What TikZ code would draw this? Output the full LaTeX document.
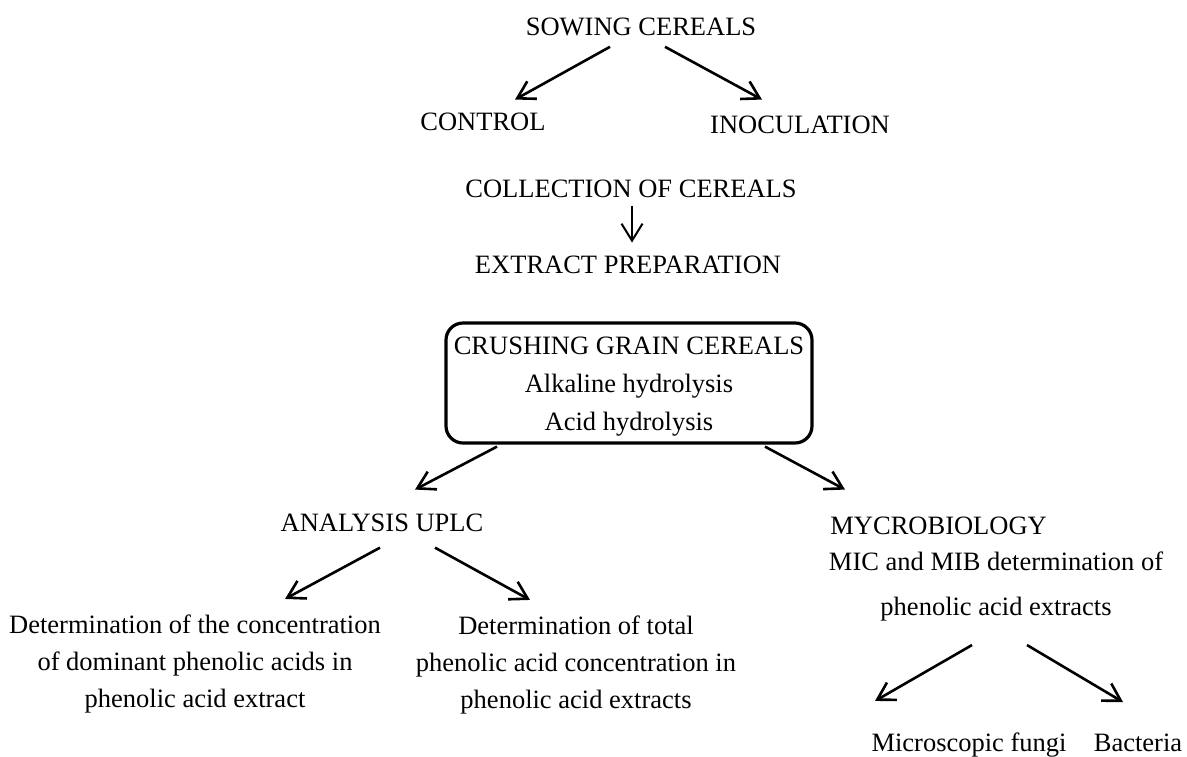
\documentclass[tikz,border=0pt]{standalone}
\usepackage{fontspec}
\setmainfont{Liberation Serif}
\usetikzlibrary{arrows.meta}
\tikzset{
  steptext/.style={inner sep=0pt,anchor=base,align=center,
    font=\fontsize{13.25pt}{18.5pt}\selectfont},
  stepbox/.style={draw,line width=1.6pt,rounded corners=8.5pt,align=center,
    anchor=base,minimum width=183pt,text height=53.5pt,text depth=6.5pt,inner sep=0pt,
    font=\fontsize{13.25pt}{19pt}\selectfont},
  steparrow/.style={-{Straight Barb[length=8.5pt,width=10pt]},line width=1.3pt},
  thinarrow/.style={-{Straight Barb[length=8.5pt,width=10.5pt]},line width=1pt}
}
\begin{document}
\begin{tikzpicture}[x=0.5pt,y=-0.5pt]
  \useasboundingbox (0,0) rectangle (1187,756);

  \node[steptext] (sow) at (641,35) {SOWING CEREALS};
  \node[steptext] (control) at (483,130) {CONTROL};
  \node[steptext] (inoc) at (800,133) {INOCULATION};
  \node[steptext] (collect) at (631,197) {COLLECTION OF CEREALS};
  \node[steptext] (extract) at (628,273) {EXTRACT PREPARATION};

  % multi-line nodes sit on their last baseline
  \node[stepbox] (crush) at (629,430) {CRUSHING GRAIN CEREALS\\ Alkaline hydrolysis\\ Acid hydrolysis};

  \node[steptext] (analysis) at (382,531) {ANALYSIS UPLC};
  \node[steptext] (detconc) at (195,707) {Determination of the concentration\\ of dominant phenolic acids in\\ phenolic acid extract};
  \node[steptext] (dettotal) at (576,708) {Determination of total\\ phenolic acid concentration in\\ phenolic acid extracts};

  \node[steptext,anchor=base west] (mycro) at (830,534) {MYCROBIOLOGY};
  \node[steptext,font=\fontsize{13.25pt}{22.5pt}\selectfont] (mic) at (996,615) {MIC and MIB determination of\\ phenolic acid extracts};
  \node[steptext] (fungi) at (969,751) {Microscopic fungi};
  \node[steptext] (bact) at (1138,751) {Bacteria};

  \draw[steparrow] ([shift={(-31,11)}]sow.south) -- ([shift={(32,-12.5)}]control.north);
  \draw[steparrow] ([shift={(24,11)}]sow.south) -- ([shift={(-38,-15.5)}]inoc.north);
  \draw[thinarrow] ([shift={(1,8)}]collect.south) -- ([shift={(4,-12.5)}]extract.north);
  \draw[steparrow] ([shift={(-132,2)}]crush.south) -- ([shift={(33,-23.5)}]analysis.north);
  \draw[steparrow] ([shift={(136,2)}]crush.south) -- ([shift={(15,-26.5)}]mycro.north west);
  \draw[steparrow] ([shift={(-2,16)}]analysis.south) -- ([shift={(90,-15)}]detconc.north);
  \draw[steparrow] ([shift={(53,16)}]analysis.south) -- ([shift={(-46,-15)}]dettotal.north);
  \draw[steparrow] ([shift={(-24,24)}]mic.south) -- ([shift={(-94,-31)}]fungi.north);
  \draw[steparrow] ([shift={(31,24)}]mic.south) -- ([shift={(-15,-31)}]bact.north);
\end{tikzpicture}
\end{document}
